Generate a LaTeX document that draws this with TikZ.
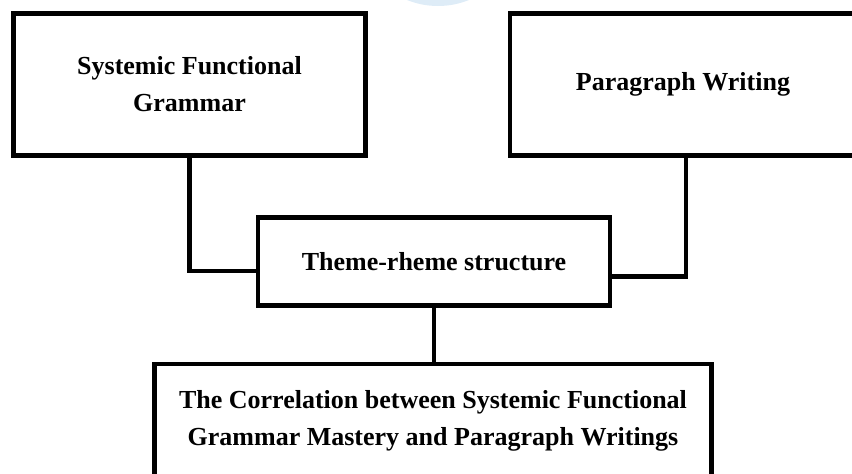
\documentclass[tikz,border=0pt]{standalone}
\usepackage{fontspec}
\setmainfont{Liberation Serif}
\usepackage{tikz}
\usetikzlibrary{positioning, calc}
\definecolor{MarkBlue}{RGB}{222, 236, 247}

\begin{document}
\begin{tikzpicture}[
        x=1pt, y=-1pt,
        box/.style={rectangle, draw=black, fill=white, line width=4.5pt, align=center, inner sep=0pt, font=\bfseries\fontsize{26}{37}\selectfont},
        link/.style={line width=4.5pt, black}
    ]
        \useasboundingbox (0,0) rectangle (852,474);
        \clip (0,0) rectangle (852,474);
        \fill[MarkBlue] (438,-77) circle (83);

        \node (sfg) [box, minimum width=352pt, minimum height=142pt] at (189.5,84.6) {Systemic Functional\\Grammar};
        \node (pw) [box, minimum width=346pt, minimum height=142pt] at (683,84.6) {Paragraph Writing};
        \node (trs) [box, minimum width=352pt, minimum height=88pt] at (434,261.6) {Theme-rheme structure};
        \node (cor) [box, minimum width=557pt, minimum height=113pt] at (433,420.5) {The Correlation between Systemic Functional\\Grammar Mastery and Paragraph Writings};

        \draw [link] (sfg.south) |- ([yshift=-9.5pt]trs.west);
        \draw [link] ([xshift=3pt]pw.south) |- ([yshift=-15pt]trs.east);
        \draw [link] (trs.south) -- (trs.south |- cor.north);
    \end{tikzpicture}
\end{document}
